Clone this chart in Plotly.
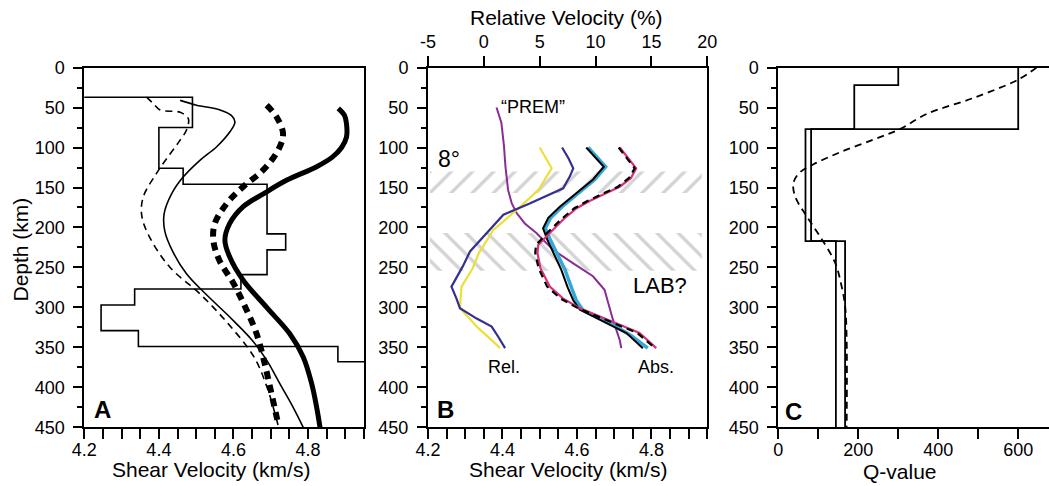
import plotly.graph_objects as go

W, H = 1049, 486

# ---------------- Panel A : shear velocity profiles ----------------
a_step_top = [0, 37, 75, 126, 146, 208, 228, 259, 277, 297, 329, 349, 368, 450]
a_step_vs = [4.10, 4.49, 4.40, 4.465, 4.69, 4.74, 4.69, 4.62, 4.335, 4.245, 4.345, 4.88, 5.00, 5.00]

a_thin_depth = [41, 47, 53, 60, 68, 80, 99, 116, 137, 158, 183, 205, 230, 258, 283, 312, 341, 366, 396, 425, 450]
a_thin_vs = [4.457, 4.501, 4.564, 4.595, 4.604, 4.591, 4.555, 4.51, 4.465, 4.434, 4.414, 4.416, 4.437,
             4.474, 4.525, 4.59, 4.65, 4.689, 4.725, 4.76, 4.787]

a_thindash_depth = [37, 45, 53, 56, 64, 78, 92, 108, 132, 162, 185, 212, 250, 283, 320, 362, 400, 448]
a_thindash_vs = [4.367, 4.385, 4.403, 4.457, 4.479, 4.474, 4.455, 4.43, 4.394, 4.358, 4.354, 4.375,
                 4.43, 4.51, 4.585, 4.655, 4.69, 4.72]

a_thickdash_depth = [47, 62, 83, 103, 128, 149, 170, 195, 216, 241, 270, 300, 333, 371, 408, 446]
a_thickdash_vs = [4.689, 4.716, 4.733, 4.72, 4.68, 4.626, 4.582, 4.55, 4.546, 4.562, 4.6, 4.632,
                  4.662, 4.684, 4.702, 4.72]

a_thick_depth = [51, 60, 70, 87, 100, 112, 124, 141, 158, 174, 195, 216, 237, 266, 300, 333, 362, 396, 425, 450]
a_thick_vs = [4.881, 4.898, 4.903, 4.903, 4.89, 4.865, 4.823, 4.742, 4.68, 4.626, 4.59, 4.577, 4.59,
              4.626, 4.689, 4.751, 4.787, 4.81, 4.823, 4.832]

# ---------------- Panel B : relative / absolute velocities ----------------
b_yellow_depth = [100, 126, 153, 178, 203, 216, 232, 251, 274, 301, 326, 341, 351]
b_yellow_rel = [5.0, 6.07, 4.9, 2.95, 0.85, 0.25, -0.45, -1.0, -2.0, -2.14, -0.5, 0.7, 1.45]

b_navy_depth = [100, 113, 126, 136, 151, 157, 170, 184, 203, 218, 230, 249, 274, 289, 301, 314, 324, 337, 351]
b_navy_rel = [7.0, 7.56, 8.0, 7.7, 7.1, 6.2, 4.1, 1.75, 0.55, -0.4, -1.24, -1.9, -2.9, -2.45, -2.14,
              -0.64, 0.7, 1.3, 1.9]

b_black_depth = [100, 124, 140, 157, 174, 188, 201, 215, 232, 253, 275, 291, 303, 320, 332, 351]
b_black_vs = [4.625, 4.672, 4.643, 4.599, 4.554, 4.523, 4.509, 4.52, 4.537, 4.558, 4.575, 4.59, 4.608,
              4.679, 4.733, 4.777]

b_cyan_depth = [100, 124, 140, 157, 174, 188, 201, 215, 232, 253, 275, 291, 303, 320, 335, 351]
b_cyan_vs = [4.63, 4.677, 4.648, 4.604, 4.56, 4.529, 4.515, 4.528, 4.547, 4.568, 4.585, 4.598, 4.615,
             4.69, 4.745, 4.79]

b_mag_depth = [100, 126, 138, 149, 157, 167, 176, 190, 207, 222, 232, 251, 274, 289, 301, 312, 324, 332, 351]
b_mag_vs = [4.715, 4.759, 4.745, 4.715, 4.679, 4.634, 4.599, 4.563, 4.527, 4.496, 4.494, 4.502, 4.527,
            4.563, 4.608, 4.666, 4.724, 4.768, 4.813]
b_dash_vs = [4.712, 4.755, 4.74, 4.71, 4.673, 4.628, 4.593, 4.557, 4.52, 4.49, 4.488, 4.497, 4.52,
             4.556, 4.603, 4.66, 4.72, 4.762, 4.81]

b_prem_depth = [50, 69, 98, 124, 153, 170, 182, 195, 207, 228, 245, 261, 278, 300, 316, 341, 351]
b_prem_vs = [4.384, 4.397, 4.404, 4.408, 4.415, 4.425, 4.438, 4.46, 4.491, 4.536, 4.59, 4.643, 4.674,
             4.688, 4.697, 4.715, 4.719]

b_band_upper = [130, 157]
b_band_lower = [207, 254]
b_band_vs = [4.205, 4.935]

# ---------------- Panel C : Q models ----------------
c_q1_top = [0, 22, 77, 217, 450]
c_q1 = [300, 190, 68, 144, 144]
c_q2_top = [0, 77, 217, 450]
c_q2 = [600, 82, 167, 167]
c_dash_depth = [0, 15, 38, 58, 77, 90, 106, 121, 131, 144, 161, 186, 211, 244, 273, 298, 340, 450]
c_dash_q = [646, 600, 488, 371, 304, 238, 154, 88, 54, 38, 42, 71, 104, 142, 158, 167, 171, 171]

# ---------------- ticks ----------------
depth_ticks = [0, 50, 100, 150, 200, 250, 300, 350, 400, 450]
vs_ticks = [4.2, 4.4, 4.6, 4.8]
rel_ticks = [-5, 0, 5, 10, 15, 20]
rel_labels = ["-5", "0", "5", "10", "15", "20"]
q_ticks = [0, 200, 400, 600]

FONT = "Liberation Sans, Arial, Helvetica, sans-serif"

fig = go.Figure()


def line(x, y, xa, ya, color, width, dash=None, shape="linear"):
    fig.add_trace(go.Scatter(x=x, y=y, xaxis=xa, yaxis=ya, mode="lines",
                             line=dict(color=color, width=width, dash=dash, shape=shape),
                             showlegend=False, hoverinfo="skip"))


# Panel A
line(a_step_vs, a_step_top, "x", "y", "black", 1.6, shape="vh")
line(a_thindash_vs, a_thindash_depth, "x", "y", "black", 1.6, dash="7px,5px", shape="spline")
line(a_thin_vs, a_thin_depth, "x", "y", "black", 1.6, shape="spline")
line(a_thickdash_vs, a_thickdash_depth, "x", "y", "black", 6, dash="8px,6px", shape="spline")
line(a_thick_vs, a_thick_depth, "x", "y", "black", 5, shape="spline")

# Panel B hatch bands
for band, pat in ((b_band_upper, "/"), (b_band_lower, "\\")):
    fig.add_trace(go.Scatter(
        x=[b_band_vs[0], b_band_vs[1], b_band_vs[1], b_band_vs[0], b_band_vs[0]],
        y=[band[0], band[0], band[1], band[1], band[0]],
        xaxis="x2", yaxis="y2", mode="lines", line=dict(width=0, color="rgba(0,0,0,0)"),
        fill="toself", fillcolor="rgba(0,0,0,0)",
        fillpattern=dict(shape=pat, fgcolor="#a8a8a8", bgcolor="rgba(0,0,0,0)", size=15, solidity=0.22),
        showlegend=False, hoverinfo="skip"))

line(b_prem_vs, b_prem_depth, "x2", "y2", "#8a2c96", 2)
line(b_yellow_rel, b_yellow_depth, "x4", "y2", "#ecdf3a", 2.2)
line(b_navy_rel, b_navy_depth, "x4", "y2", "#35318f", 2.2)
line(b_cyan_vs, b_cyan_depth, "x2", "y2", "#34a9d6", 3.5)
line(b_black_vs, b_black_depth, "x2", "y2", "black", 2)
line(b_mag_vs, b_mag_depth, "x2", "y2", "#d7307c", 2.2)
line(b_dash_vs, b_mag_depth, "x2", "y2", "black", 2.2, dash="7px,5px")

# Panel C
line(c_q1, c_q1_top, "x3", "y3", "black", 1.8, shape="vh")
line(c_q2, c_q2_top, "x3", "y3", "black", 1.8, shape="vh")
line(c_dash_q, c_dash_depth, "x3", "y3", "black", 1.8, dash="7px,5px", shape="spline")


def px(x):
    return x / W


def py(y):
    return 1 - y / H


ydom = [py(427.3), py(67.6)]
axis_common = dict(showline=True, linecolor="black", linewidth=2, ticks="outside", tickcolor="black",
                   tickwidth=2, showgrid=False, zeroline=False, automargin=False,
                   tickfont=dict(size=18, color="black", family=FONT))
yax = dict(axis_common, range=[450, 0], tickvals=depth_ticks, ticklen=9,
           minor=dict(dtick=25, tick0=0, ticklen=5, ticks="outside", tickcolor="black", tickwidth=2),
           domain=ydom, ticklabelstandoff=5)
xvs = dict(axis_common, range=[4.2, 4.95], tickvals=vs_ticks, ticktext=[f"{v:.1f}" for v in vs_ticks],
           ticklen=10, ticklabelstandoff=-5,
           minor=dict(dtick=0.05, tick0=4.2, ticklen=10, ticks="outside", tickcolor="black", tickwidth=2))

fig.update_layout(
    width=W, height=H, margin=dict(l=0, r=0, t=0, b=0, autoexpand=False),
    paper_bgcolor="white", plot_bgcolor="white",
    font=dict(family=FONT, color="black"),
    xaxis=dict(xvs, domain=[px(84.3), px(364)], anchor="y", mirror=True),
    yaxis=dict(yax, anchor="x", mirror=True),
    xaxis2=dict(xvs, domain=[px(428), px(707.3)], anchor="y2"),
    yaxis2=dict(yax, anchor="x2", mirror=True),
    xaxis4=dict(axis_common, overlaying="x2", side="top", anchor="y2", range=[-5, 20],
                tickvals=rel_ticks, ticktext=rel_labels, ticklen=10),
    xaxis3=dict(axis_common, domain=[px(778.3), 1.0], anchor="y3", range=[0, 677], tickvals=q_ticks,
                ticklen=10, mirror=True, ticklabelstandoff=-5,
                minor=dict(dtick=100, tick0=0, ticklen=10, ticks="outside", tickcolor="black", tickwidth=2)),
    yaxis3=dict(yax, anchor="x3"),
)

ann = []


def txt(text, x, y, size, xref="paper", yref="paper", bold=False, angle=0):
    ann.append(dict(text=f"<b>{text}</b>" if bold else text, x=x, y=y, xref=xref, yref=yref,
                    showarrow=False, xanchor="center", yanchor="middle", textangle=angle,
                    font=dict(size=size, color="black", family=FONT)))


txt("Shear Velocity (km/s)", px(210.8), py(469), 21)
txt("Shear Velocity (km/s)", px(567.5), py(469), 21)
txt("Q-value", px(900), py(471), 21)
txt("Relative Velocity (%)", px(566.7), py(18), 21)
txt("Depth (km)", px(19.5), py(250), 21, angle=-90)
txt("A", 4.249, 428, 24, "x", "y", bold=True)
txt("B", 4.248, 428, 24, "x2", "y2", bold=True)
txt("C", 39, 430, 24, "x3", "y3", bold=True)
txt("\u201cPREM\u201d", 4.482, 49, 18, "x2", "y2")
txt("8\u00b0", 4.256, 114, 23, "x2", "y2")
txt("LAB?", 4.822, 272, 22, "x2", "y2")
txt("Rel.", 4.404, 374, 18, "x2", "y2")
txt("Abs.", 4.811, 374, 18, "x2", "y2")
fig.update_layout(annotations=ann)

fig.write_html("out.html")
